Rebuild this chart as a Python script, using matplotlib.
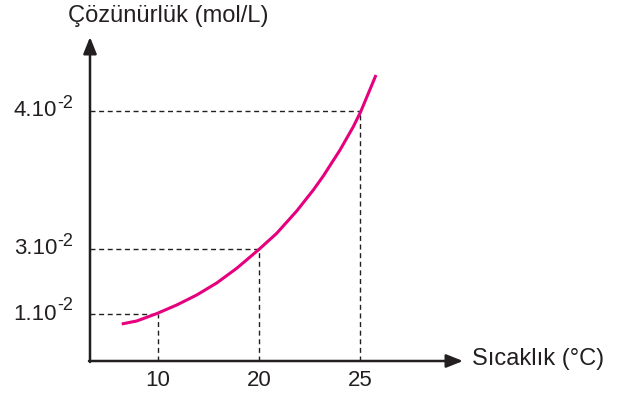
import matplotlib
matplotlib.use("Agg")
import matplotlib.pyplot as plt

plt.rcParams['font.family'] = ['Liberation Sans', 'DejaVu Sans']

# schematic axis units (the drawing is not to scale)
temp_labels = ["10", "20", "25"]
temp_pos = [68, 169, 270]
sol_labels = ["1.10", "3.10", "4.10"]
sol_exp = "-2"
sol_pos = [47, 112, 250]

curve_x = [31.7, 46.7, 67, 86.7, 106.7, 126.7, 146.7, 168.3, 186.7, 206.7,
           223.3, 233.3, 250, 263.3, 270.7, 286]
curve_y = [37, 40, 47.5, 56, 66, 78, 92.7, 111, 127.7, 150,
           171, 185, 211, 234.3, 249.3, 286]

ink = "#231f20"
pink = "#e6007e"

fig = plt.figure(figsize=(6.25, 3.94), dpi=100)
ax = fig.add_axes([90 / 625, 33 / 394, 372 / 625, 323 / 394])
ax.set_xlim(0, 372)
ax.set_ylim(0, 323)
ax.axis("off")

# guide lines
for xp, yp in zip(temp_pos, sol_pos):
    ax.plot([0, xp], [yp, yp], color=ink, lw=1.0, dashes=(3.6, 2.6), clip_on=False)
    ax.plot([xp, xp], [0, yp], color=ink, lw=1.0, dashes=(3.6, 2.6), clip_on=False)

ax.plot(curve_x, curve_y, color=pink, lw=2.2, solid_capstyle="butt",
        solid_joinstyle="round", clip_on=False, zorder=3)

# axes with arrows
arrow = dict(arrowstyle="-|>,head_length=0.5,head_width=0.2", color=ink, lw=1.8,
             shrinkA=0, shrinkB=0, mutation_scale=20)
ax.annotate("", xy=(373, 0), xytext=(-1, 0), arrowprops=arrow, annotation_clip=False)
ax.annotate("", xy=(0, 324), xytext=(0, -1), arrowprops=arrow, annotation_clip=False)

for xp, lab in zip(temp_pos, temp_labels):
    ax.text(xp, -20, lab, ha="center", va="center", fontsize=16, color=ink, clip_on=False)

for yp, lab in zip(sol_pos, sol_labels):
    ax.text(-33, yp, lab, ha="right", va="center", fontsize=16, color=ink, clip_on=False)
    ax.text(-33, yp + 8, sol_exp, ha="left", va="center", fontsize=13, color=ink, clip_on=False)

ax.text(-22, 345, "Çözünürlük (mol/L)", ha="left", va="center", fontsize=17, color=ink, clip_on=False)
ax.text(382, 2, "Sıcaklık (°C)", ha="left", va="center", fontsize=17, color=ink, clip_on=False)

fig.savefig("out.png", dpi=100)
